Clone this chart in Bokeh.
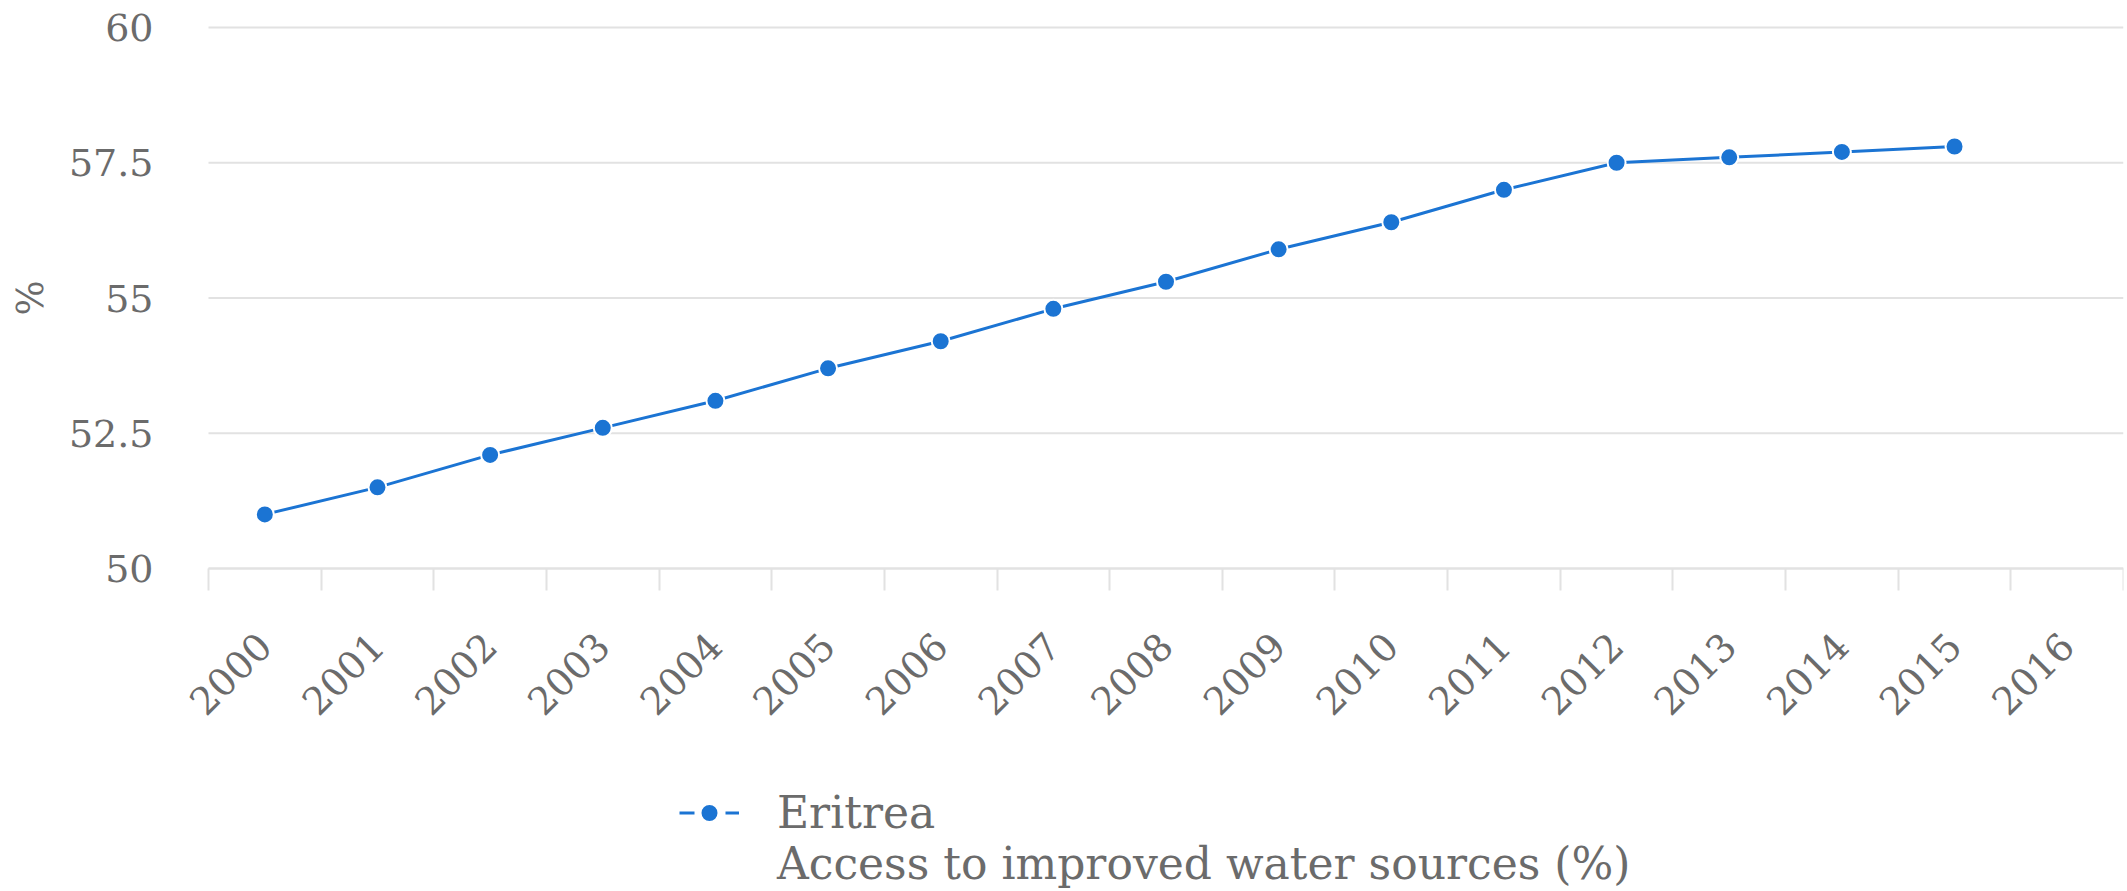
import math
from bokeh.plotting import figure
from bokeh.models import (Range1d, FixedTicker, Legend, LegendItem,
                          ColumnDataSource, Label)
from bokeh.embed import file_html
from bokeh.resources import INLINE

# ---- data ----
years = [2000, 2001, 2002, 2003, 2004, 2005, 2006, 2007, 2008,
         2009, 2010, 2011, 2012, 2013, 2014, 2015, 2016]
year_labels = [str(y) for y in years]
data_years = [2000, 2001, 2002, 2003, 2004, 2005, 2006, 2007,
              2008, 2009, 2010, 2011, 2012, 2013, 2014, 2015]
values = [51.0, 51.5, 52.1, 52.6, 53.1, 53.7, 54.2, 54.8,
          55.3, 55.9, 56.4, 57.0, 57.5, 57.6, 57.7, 57.8]
y_ticks = [50, 52.5, 55, 57.5, 60]
y_tick_labels = ["50", "52.5", "55", "57.5", "60"]
series_name = "Eritrea"
indicator_name = "Access to improved water sources (%)"
y_axis_title = "%"

BLUE = "#1b74d3"
GRAY_TEXT = "#6b6b6b"
GRID = "#e2e2e2"
FONT = "DejaVu Serif"

# ---- layout (pixels) ----
FRAME_W, FRAME_H = 2123, 891        # frame covers the page; axes drawn inside it
PLOT_LEFT_PX = 208                  # where the category bands start
PLOT_TOP_PX = 27                    # where the value 60 sits
PLOT_H_PX = 541                     # height of the 50..60 value span
band_px = (FRAME_W - PLOT_LEFT_PX) / len(years)
x_lo = years[0] - 0.5
x_hi = years[-1] + 0.5
x_start = x_lo - PLOT_LEFT_PX / band_px
px_per_unit = PLOT_H_PX / (y_ticks[-1] - y_ticks[0])
y_end = y_ticks[-1] + PLOT_TOP_PX / px_per_unit
y_start = y_ticks[0] - (FRAME_H - PLOT_TOP_PX - PLOT_H_PX) / px_per_unit

p = figure(frame_width=FRAME_W, frame_height=FRAME_H,
           output_backend="svg", toolbar_location=None,
           x_range=Range1d(x_start, x_hi),
           y_range=Range1d(y_start, y_end),
           min_border_left=0, min_border_right=4, min_border_top=0,
           min_border_bottom=0)
p.outline_line_color = None
p.background_fill_color = "white"
p.border_fill_color = "white"
p.xgrid.grid_line_color = None
p.ygrid.grid_line_color = None

# horizontal grid lines over the category span only
n = len(y_ticks)
p.segment(x0=[x_lo] * n, x1=[x_hi] * n, y0=y_ticks, y1=y_ticks,
          line_color=GRID, line_width=2)

src = ColumnDataSource(dict(x=data_years, y=values))
line_r = p.line("x", "y", source=src, line_color=BLUE, line_width=3)
pts_r = p.scatter("x", "y", source=src, size=18, fill_color=BLUE,
                  line_color="white", line_width=2)

# renderers only used for the legend glyphs
leg_src = ColumnDataSource(dict(x=data_years[:1], y=values[:1]))
leg_line = p.line("x", "y", source=leg_src, line_color=BLUE, line_width=3,
                  line_dash="15 8")
leg_blank = p.line("x", "y", source=leg_src, line_alpha=0)

# x axis, drawn at y = 50
xa = p.xaxis[0]
xa.fixed_location = y_ticks[0]
xa.bounds = (x_lo, x_hi)
xa.ticker = FixedTicker(ticks=years,
                        minor_ticks=[y - 0.5 for y in years] + [x_hi])
xa.major_label_overrides = {y: s for y, s in zip(years, year_labels)}
xa.major_tick_out = 0
xa.major_tick_in = 0
xa.minor_tick_out = 22
xa.minor_tick_in = 0
xa.minor_tick_line_color = GRID
xa.minor_tick_line_width = 2
xa.axis_line_color = GRID
xa.axis_line_width = 2
xa.major_label_orientation = math.pi / 4
xa.major_label_text_font = FONT
xa.major_label_text_font_size = "38px"
xa.major_label_text_color = GRAY_TEXT
xa.major_label_standoff = 49

# y axis, drawn at the left end of the category span
ya = p.yaxis[0]
ya.fixed_location = x_lo
ya.bounds = (y_ticks[0], y_ticks[-1])
ya.ticker = FixedTicker(ticks=y_ticks)
ya.major_label_overrides = {t: s for t, s in zip(y_ticks, y_tick_labels)}
ya.axis_line_color = None
ya.major_tick_line_color = None
ya.minor_tick_line_color = None
ya.major_label_text_font = FONT
ya.major_label_text_font_size = "38px"
ya.major_label_text_color = GRAY_TEXT
ya.major_label_standoff = 49

# y-axis title
y_mid = (y_ticks[0] + y_ticks[-1]) / 2
p.add_layout(Label(x=30, y=y_mid, x_units="screen", text=y_axis_title,
                   angle=math.pi / 2, text_align="center",
                   text_baseline="middle", text_font=FONT,
                   text_font_size="37px", text_color=GRAY_TEXT))

legend = Legend(items=[LegendItem(label=series_name, renderers=[leg_line, pts_r]),
                       LegendItem(label=indicator_name, renderers=[leg_blank])],
                location=(679, 2), orientation="vertical",
                label_text_font=FONT, label_text_font_size="44px",
                label_text_color=GRAY_TEXT, glyph_width=60, glyph_height=45,
                label_standoff=38, border_line_color=None,
                background_fill_alpha=0, padding=0, margin=0, spacing=0)
p.add_layout(legend, "center")

open("out.html", "w").write(file_html(p, INLINE))
